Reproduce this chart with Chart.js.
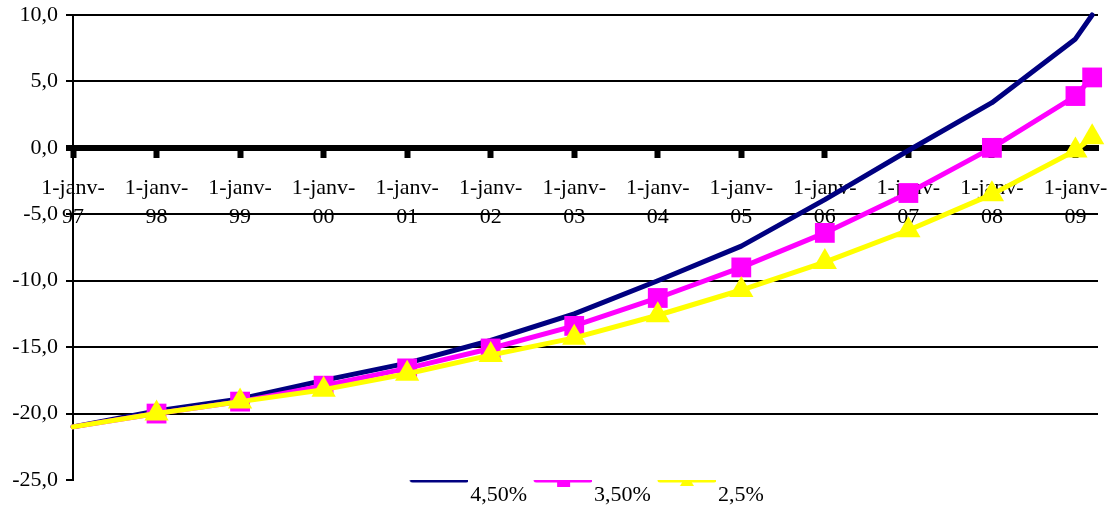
<!DOCTYPE html>
<html>
<head>
<meta charset="utf-8">
<script src="https://cdn.jsdelivr.net/npm/chart.js@4"></script>
<style>
  html, body { margin: 0; padding: 0; background: #fff; }
</style>
</head>
<body>
<canvas id="rateChart" width="1119" height="507"></canvas>
<script>
// dates as decimal years (last point is a few months into 2009)
const years = [1997, 1998, 1999, 2000, 2001, 2002, 2003, 2004, 2005, 2006, 2007, 2008, 2009, 2009.2];
const tickYears = [1997, 1998, 1999, 2000, 2001, 2002, 2003, 2004, 2005, 2006, 2007, 2008, 2009];
const tickLabels = ["1-janv-97", "1-janv-98", "1-janv-99", "1-janv-00", "1-janv-01", "1-janv-02",
  "1-janv-03", "1-janv-04", "1-janv-05", "1-janv-06", "1-janv-07", "1-janv-08", "1-janv-09"];
const seriesNames = ["4,50%", "3,50%", "2,5%"];
const rate450 = [-21.0, -19.8, -18.9, -17.5, -16.2, -14.5, -12.5, -10.0, -7.4, -3.9, -0.2, 3.4, 8.2, 10.0];
const rate350 = [-21.0, -20.0, -19.1, -17.9, -16.6, -15.1, -13.4, -11.3, -9.0, -6.4, -3.4, 0.0, 3.9, 5.3];
const rate250 = [-21.0, -20.0, -19.1, -18.2, -17.0, -15.6, -14.3, -12.6, -10.7, -8.6, -6.2, -3.5, -0.2, 0.8];

const colors = ["#000080", "#FF00FF", "#FFFF00"];

Chart.defaults.font.family = "'Liberation Serif', 'Times New Roman', serif";
Chart.defaults.font.size = 22;
Chart.defaults.color = "#000";

const toPoints = (vals) => vals.map((v, i) => ({ x: years[i], y: v }));

// legend samples: line with marker in the middle, like the spreadsheet legend
function makeSample(color, marker) {
  const c = document.createElement("canvas");
  c.width = 70;
  c.height = 44;
  const g = c.getContext("2d");
  const x0 = 14, x1 = 68, y = 7;
  g.strokeStyle = color;
  g.lineWidth = 5;
  g.lineCap = "round";
  g.beginPath();
  g.moveTo(x0, y);
  g.lineTo(x1, y);
  g.stroke();
  g.fillStyle = color;
  const cx = (x0 + x1) / 2;
  if (marker === "rect") {
    g.fillRect(cx - 6, y - 6, 13, 13);
  } else if (marker === "triangle") {
    g.beginPath();
    g.moveTo(cx, y - 6);
    g.lineTo(cx + 7, y + 6);
    g.lineTo(cx - 7, y + 6);
    g.closePath();
    g.fill();
  }
  return c;
}
const samples = [makeSample(colors[0], null), makeSample(colors[1], "rect"), makeSample(colors[2], "triangle")];

const markerSize = (ctx) => (ctx.dataIndex === 0 ? 0 : 14);

const ctx = document.getElementById("rateChart").getContext("2d");
const rateChart = new Chart(ctx, {
  type: "line",
  data: {
    datasets: [
      {
        label: seriesNames[0],
        data: toPoints(rate450),
        borderColor: colors[0],
        borderWidth: 5,
        pointRadius: 0,
        pointHoverRadius: 0,
        order: 2,
      },
      {
        label: seriesNames[1],
        data: toPoints(rate350),
        borderColor: colors[1],
        backgroundColor: colors[1],
        borderWidth: 5,
        pointStyle: "rect",
        pointRadius: markerSize,
        pointBorderWidth: 0,
        pointBackgroundColor: colors[1],
        order: 1,
      },
      {
        label: seriesNames[2],
        data: toPoints(rate250),
        borderColor: colors[2],
        backgroundColor: colors[2],
        borderWidth: 5,
        pointStyle: "triangle",
        pointRadius: markerSize,
        pointBorderWidth: 0,
        pointBackgroundColor: colors[2],
        order: 0,
      },
    ],
  },
  options: {
    responsive: false,
    animation: false,
    clip: false,
    tension: 0,
    borderCapStyle: "round",
    borderJoinStyle: "round",
    layout: { padding: { top: 15, right: 21, left: 0, bottom: -9 } },
    scales: {
      x: {
        type: "linear",
        position: { y: 0 },
        min: 1997,
        max: 2009.27,
        afterBuildTicks: (scale) => {
          scale.ticks = tickYears.map((v) => ({ value: v }));
        },
        afterFit: (scale) => {
          scale.paddingLeft = 0;
          scale.paddingRight = 0;
        },
        ticks: {
          autoSkip: false,
          maxRotation: 0,
          padding: 19,
          font: { lineHeight: 1.3 },
          callback: (value) => {
            const label = tickLabels[tickYears.indexOf(value)];
            return label ? [label.slice(0, 7), label.slice(7)] : "";
          },
        },
        grid: {
          drawOnChartArea: false,
          tickLength: 7,
          tickWidth: 6,
          tickColor: "#000",
        },
        border: { color: "#000", width: 6 },
      },
      y: {
        min: -25,
        max: 10,
        afterFit: (scale) => {
          scale.width = 73;
          scale.paddingTop = 0;
          scale.paddingBottom = 0;
        },
        ticks: {
          stepSize: 5,
          padding: 8,
          callback: (value) => value.toFixed(1).replace(".", ","),
        },
        grid: {
          // no gridline along the bottom edge, only the tick mark
          color: (c) => (c.tick && c.tick.value === -25 ? "rgba(0,0,0,0)" : "#000"),
          tickColor: "#000",
          lineWidth: (c) => (c.tick && c.tick.value === 0 ? 6 : 2),
          tickLength: 7,
        },
        border: { color: "#000", width: 2 },
      },
    },
    plugins: {
      tooltip: { enabled: false },
      legend: {
        position: "bottom",
        fullSize: false,
        labels: {
          usePointStyle: true,
          pointStyleWidth: 52,
          padding: 4,
          color: "#000",
          sort: (a, b) => a.datasetIndex - b.datasetIndex,
          generateLabels: (chart) =>
            Chart.defaults.plugins.legend.labels.generateLabels(chart).map((item) => {
              item.pointStyle = samples[item.datasetIndex];
              return item;
            }),
        },
      },
    },
  },
});
</script>
</body>
</html>
